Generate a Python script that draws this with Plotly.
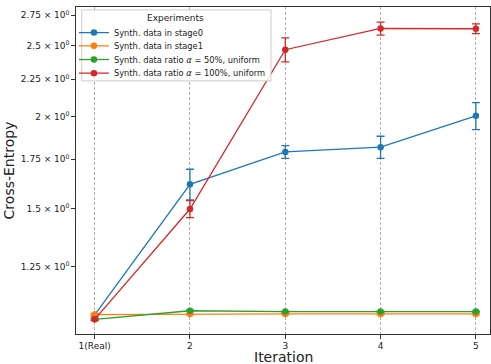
import plotly.graph_objects as go
import numpy as np

iterations = [1, 2, 3, 4, 5]
x_tick_labels = ["1(Real)", "2", "3", "4", "5"]

stage0_mean = [1.074, 1.618, 1.791, 1.818, 2.006]
stage0_err = [0.004, 0.078, 0.036, 0.063, 0.085]

stage1_mean = [1.075, 1.077, 1.077, 1.077, 1.077]
stage1_err = [0.003, 0.003, 0.003, 0.003, 0.003]

ratio50_mean = [1.059, 1.088, 1.085, 1.085, 1.085]
ratio50_err = [0.002, 0.002, 0.002, 0.002, 0.002]

ratio100_mean = [1.059, 1.497, 2.468, 2.638, 2.636]
ratio100_err = [0.004, 0.040, 0.093, 0.054, 0.040]

y_tick_vals = [1.25, 1.5, 1.75, 2.0, 2.25, 2.5, 2.75]
y_tick_text = ["1.25 × 10<sup>0</sup>", "1.5 × 10<sup>0</sup>", "1.75 × 10<sup>0</sup>",
               "2 × 10<sup>0</sup>", "2.25 × 10<sup>0</sup>", "2.5 × 10<sup>0</sup>",
               "2.75 × 10<sup>0</sup>"]

series_names = ["Synth. data in stage0", "Synth. data in stage1",
                "Synth. data ratio <i>α</i> = 50%, uniform",
                "Synth. data ratio <i>α</i> = 100%, uniform"]
series_means = [stage0_mean, stage1_mean, ratio50_mean, ratio100_mean]
series_errs = [stage0_err, stage1_err, ratio50_err, ratio100_err]
series_colors = ["#1f77b4", "#ff7f0e", "#2ca02c", "#d62728"]

font_family = "DejaVu Sans"
legend_ids = ["legend", "legend2", "legend3", "legend4"]
legend_tops = [0.966, 0.9256, 0.8837, 0.8419]

fig = go.Figure()
for i, (name, m, e, c) in enumerate(zip(series_names, series_means, series_errs, series_colors)):
    fig.add_trace(go.Scatter(
        x=iterations, y=m, name=name, mode="lines+markers",
        line=dict(color=c, width=1.3),
        marker=dict(color=c, size=6.5, symbol="circle"),
        error_y=dict(type="data", array=e, visible=True, color=c, thickness=1.3, width=4),
        legend=legend_ids[i],
    ))

# legend frame and title
fig.add_shape(type="rect", xref="paper", yref="paper",
              x0=0.0138, x1=0.471, y0=0.774, y1=0.991,
              line=dict(color="#cccccc", width=1), fillcolor="rgba(255,255,255,0.85)",
              layer="above")
fig.add_annotation(text="Experiments", xref="paper", yref="paper", x=0.240, y=0.966,
                   showarrow=False, xanchor="center", yanchor="middle",
                   font=dict(size=9, family=font_family, color="#222"))
# x-axis title
fig.add_annotation(text="Iteration", xref="paper", yref="paper", x=0.5, y=-0.0694,
                   showarrow=False, xanchor="center", yanchor="middle",
                   font=dict(size=14, family=font_family, color="#222"))

legend_style = dict(xanchor="left", yanchor="top", bgcolor="rgba(0,0,0,0)", borderwidth=0,
                    font=dict(size=8.3, family=font_family, color="#222"), itemwidth=30)
layout_legends = {}
for lid, top in zip(legend_ids, legend_tops):
    layout_legends[lid] = dict(x=-0.005, y=top, **legend_style)

fig.update_layout(
    width=491, height=364,
    margin=dict(l=76, r=1, t=7, b=30),
    paper_bgcolor="white", plot_bgcolor="white",
    font=dict(family=font_family, color="#222"),
    showlegend=True,
    xaxis=dict(
        range=[0.804, 5.148], tickmode="array", tickvals=iterations, ticktext=x_tick_labels,
        showgrid=True, gridcolor="#b0b0b0", griddash="3px,2px", gridwidth=0.8,
        showline=True, linecolor="#333", linewidth=1.2, mirror=True,
        ticks="outside", ticklen=3.5, tickcolor="#333", tickwidth=1,
        tickfont=dict(size=9, family=font_family, color="#222"),
        zeroline=False, automargin=False,
    ),
    yaxis=dict(
        type="log", range=[np.log10(1.0114), np.log10(2.822)],
        tickmode="array", tickvals=y_tick_vals, ticktext=y_tick_text,
        showgrid=False,
        showline=True, linecolor="#333", linewidth=1.2, mirror=True,
        ticks="outside", ticklen=3.5, tickcolor="#333", tickwidth=1,
        tickfont=dict(size=9, family=font_family, color="#222"),
        title=dict(text="Cross-Entropy", font=dict(size=14, family=font_family, color="#222"), standoff=2),
        zeroline=False, automargin=False,
    ),
    **layout_legends,
)

fig.write_html("out.html", config={"displayModeBar": False},
               post_script="document.body.style.margin='0';document.body.style.overflow='hidden';")
